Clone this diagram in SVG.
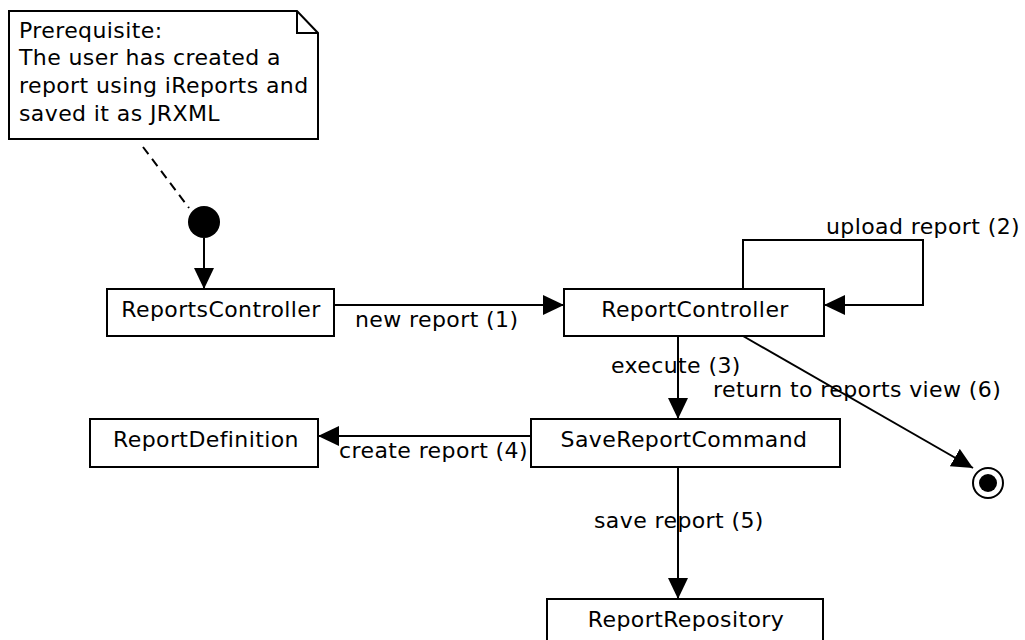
<svg xmlns="http://www.w3.org/2000/svg" width="1025" height="640" viewBox="0 0 1025 640">
  <style>
    .box { fill: #ffffff; stroke: #000000; stroke-width: 2; }
    .lbl { font-family: "DejaVu Sans", "Liberation Sans", sans-serif; font-size: 22px; letter-spacing: 0.4px; fill: #000000; }
    .mid { text-anchor: middle; }
    .edge { fill: none; stroke: #000000; stroke-width: 2; }
  </style>
  <defs>
    <marker id="arrow" markerUnits="userSpaceOnUse" markerWidth="22" markerHeight="22" refX="21" refY="10" orient="auto">
      <path d="M0,0 L21,10 L0,20 Z" fill="#000000"/>
    </marker>
  </defs>
  <rect width="1025" height="640" fill="#ffffff"/>

  <!-- note -->
  <g id="note">
    <path class="box" d="M9,11 L297,11 L318,33 L318,139 L9,139 Z"/>
    <path class="edge" d="M297,11 L297,33 L318,33"/>
    <text class="lbl" x="19" y="38">Prerequisite:</text>
    <text class="lbl" x="19" y="65">The user has created a</text>
    <text class="lbl" x="19" y="93">report using iReports and</text>
    <text class="lbl" x="19" y="121">saved it as JRXML</text>
  </g>

  <!-- initial state -->
  <g id="start">
    <circle cx="204" cy="222" r="16" fill="#000000"/>
  </g>

  <!-- final state -->
  <g id="end">
    <circle cx="988" cy="483" r="15" fill="#ffffff" stroke="#000000" stroke-width="2"/>
    <circle cx="988" cy="483" r="9" fill="#000000"/>
  </g>

  <g id="reportsController">
    <rect class="box" x="107" y="289" width="227" height="47"/>
    <text class="lbl mid" x="221" y="317">ReportsController</text>
  </g>

  <g id="reportController">
    <rect class="box" x="564" y="289" width="260" height="47"/>
    <text class="lbl mid" x="695" y="317">ReportController</text>
  </g>

  <g id="reportDefinition">
    <rect class="box" x="90" y="419" width="228" height="48"/>
    <text class="lbl mid" x="206" y="447">ReportDefinition</text>
  </g>

  <g id="saveReportCommand">
    <rect class="box" x="531" y="419" width="309" height="48"/>
    <text class="lbl mid" x="684" y="447">SaveReportCommand</text>
  </g>

  <g id="reportRepository">
    <rect class="box" x="547" y="599" width="276" height="48"/>
    <text class="lbl mid" x="686" y="627">ReportRepository</text>
  </g>

  <!-- connectors -->
  <g id="connectors">
    <line x1="143" y1="147" x2="189" y2="208" stroke="#000000" stroke-width="2" stroke-dasharray="9,6"/>
    <line class="edge" x1="204" y1="238" x2="204" y2="289" marker-end="url(#arrow)"/>
    <line class="edge" x1="334" y1="305" x2="564" y2="305" marker-end="url(#arrow)"/>
    <path class="edge" d="M743,289 L743,240 L923,240 L923,305 L824,305" marker-end="url(#arrow)"/>
    <line class="edge" x1="678" y1="336" x2="678" y2="419" marker-end="url(#arrow)"/>
    <line class="edge" x1="743" y1="336" x2="973" y2="468" marker-end="url(#arrow)"/>
    <line class="edge" x1="531" y1="436" x2="318" y2="436" marker-end="url(#arrow)"/>
    <line class="edge" x1="678" y1="467" x2="678" y2="599" marker-end="url(#arrow)"/>

    <text class="lbl" x="355" y="327">new report (1)</text>
    <text class="lbl" x="826" y="234">upload report (2)</text>
    <text class="lbl" x="611" y="373">execute (3)</text>
    <text class="lbl" x="713" y="397">return to reports view (6)</text>
    <text class="lbl" x="339" y="458">create report (4)</text>
    <text class="lbl" x="594" y="528">save report (5)</text>
  </g>
</svg>
